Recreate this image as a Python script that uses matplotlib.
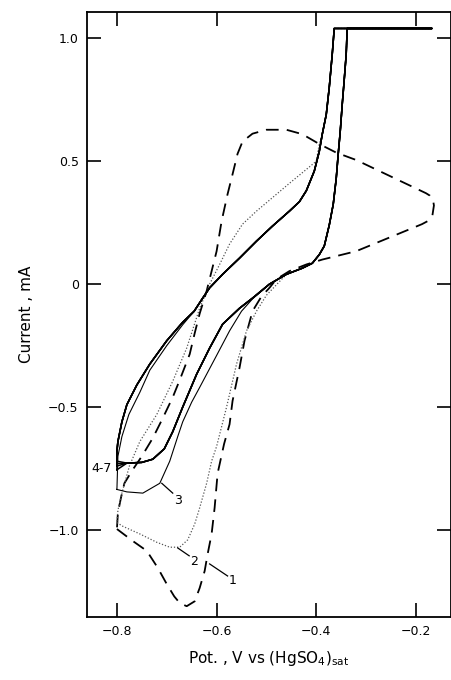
import matplotlib
matplotlib.use("Agg")
import matplotlib.pyplot as plt

# curve 1 (dashed): first sweep
c1_v = [-0.8, -0.768, -0.74, -0.718, -0.70, -0.685, -0.674, -0.66, -0.644, -0.634,
        -0.624, -0.618, -0.61, -0.604, -0.598, -0.585, -0.574, -0.568, -0.554, -0.544,
        -0.528, -0.51, -0.494, -0.48, -0.454, -0.42, -0.388, -0.32, -0.188, -0.175,
        -0.167, -0.164, -0.166, -0.172, -0.18, -0.32, -0.36, -0.394, -0.428, -0.46,
        -0.50, -0.528, -0.548, -0.558, -0.568, -0.578, -0.59, -0.60, -0.61, -0.62,
        -0.634, -0.644, -0.654, -0.674, -0.688, -0.708, -0.728, -0.75, -0.77, -0.785,
        -0.792, -0.798, -0.8]
c1_i = [-0.996, -1.045, -1.085, -1.154, -1.22, -1.27, -1.297, -1.31, -1.29, -1.236,
        -1.167, -1.098, -1.016, -0.91, -0.77, -0.65, -0.57, -0.475, -0.34, -0.23,
        -0.11, -0.05, -0.015, 0.02, 0.053, 0.08, 0.10, 0.134, 0.244, 0.258,
        0.28, 0.32, 0.345, 0.36, 0.37, 0.505, 0.535, 0.57, 0.61, 0.628,
        0.628, 0.612, 0.58, 0.53, 0.447, 0.366, 0.256, 0.134, 0.053, -0.028,
        -0.12, -0.20, -0.285, -0.39, -0.46, -0.545, -0.626, -0.70, -0.76, -0.81,
        -0.87, -0.93, -0.996]

# curve 2 (dotted): second sweep
c2_v = [-0.8, -0.788, -0.754, -0.72, -0.694, -0.674, -0.658, -0.644, -0.634, -0.62,
        -0.61, -0.60, -0.58, -0.56, -0.54, -0.52, -0.50, -0.46, -0.428, -0.408,
        -0.394, -0.384, -0.374, -0.366, -0.36, -0.356, -0.352, -0.348, -0.344, -0.34,
        -0.338, -0.168, -0.364, -0.368, -0.374, -0.38, -0.388, -0.394, -0.40, -0.454,
        -0.52, -0.548, -0.574, -0.594, -0.614, -0.634, -0.66, -0.688, -0.72, -0.754,
        -0.775, -0.79, -0.798, -0.8]
c2_i = [-0.97, -0.985, -1.016, -1.05, -1.07, -1.07, -1.04, -0.976, -0.91, -0.81,
        -0.72, -0.66, -0.50, -0.325, -0.19, -0.11, -0.045, 0.04, 0.065, 0.085,
        0.12, 0.155, 0.24, 0.325, 0.43, 0.53, 0.62, 0.73, 0.83, 0.935,
        1.04, 1.04, 1.04, 0.935, 0.80, 0.69, 0.61, 0.57, 0.50, 0.41,
        0.297, 0.244, 0.163, 0.08, 0.0, -0.098, -0.26, -0.395, -0.53, -0.64,
        -0.74, -0.85, -0.92, -0.97]

# curve 3 (thin solid)
c3_v = [-0.8, -0.78, -0.748, -0.714, -0.694, -0.678, -0.668, -0.65, -0.634, -0.60,
        -0.574, -0.55, -0.528, -0.494, -0.46, -0.428, -0.408, -0.394, -0.384, -0.374,
        -0.366, -0.36, -0.356, -0.352, -0.348, -0.344, -0.34, -0.338, -0.168, -0.364,
        -0.368, -0.374, -0.38, -0.388, -0.394, -0.404, -0.42, -0.434, -0.454, -0.488,
        -0.52, -0.554, -0.588, -0.614, -0.628, -0.645, -0.668, -0.70, -0.734, -0.754,
        -0.776, -0.79, -0.798, -0.8]
c3_i = [-0.835, -0.845, -0.85, -0.81, -0.72, -0.62, -0.56, -0.48, -0.42, -0.29,
        -0.19, -0.11, -0.06, 0.0, 0.04, 0.065, 0.085, 0.12, 0.155, 0.24,
        0.325, 0.43, 0.53, 0.62, 0.73, 0.83, 0.935, 1.04, 1.04, 1.04,
        0.935, 0.80, 0.69, 0.61, 0.54, 0.46, 0.38, 0.335, 0.297, 0.236,
        0.175, 0.106, 0.04, -0.015, -0.057, -0.11, -0.165, -0.25, -0.35, -0.44,
        -0.53, -0.62, -0.70, -0.835]

# curves 4-7 (solid, nearly coincident loop; they split near -0.8 V)
c47_v = [-0.8, -0.78, -0.75, -0.728, -0.705, -0.688, -0.668, -0.64, -0.614, -0.588,
         -0.554, -0.528, -0.494, -0.46, -0.428, -0.408, -0.394, -0.384, -0.374, -0.366,
         -0.36, -0.356, -0.352, -0.348, -0.344, -0.34, -0.338, -0.168, -0.364, -0.368,
         -0.374, -0.38, -0.388, -0.394, -0.404, -0.42, -0.434, -0.454, -0.488, -0.52,
         -0.554, -0.588, -0.614, -0.628, -0.645, -0.668, -0.70, -0.734, -0.76, -0.78,
         -0.79, -0.798, -0.8, -0.8]
c47_i = [None, -0.728, -0.725, -0.712, -0.67, -0.60, -0.50, -0.366, -0.26, -0.163,
         -0.098, -0.057, 0.0, 0.04, 0.065, 0.085, 0.12, 0.155, 0.24, 0.325,
         0.43, 0.53, 0.62, 0.73, 0.83, 0.935, 1.04, 1.04, 1.04, 0.935,
         0.80, 0.69, 0.61, 0.54, 0.46, 0.38, 0.335, 0.297, 0.236, 0.175,
         0.106, 0.04, -0.015, -0.057, -0.11, -0.155, -0.23, -0.325, -0.41, -0.49,
         -0.56, -0.64, -0.68, None]
c47_bottom = [-0.72, -0.73, -0.74, -0.755]

# label text, position, and leader line ends
labels = ["4-7", "3", "2", "1"]
label_xy = [(-0.81, -0.75), (-0.678, -0.878), (-0.646, -1.13), (-0.568, -1.205)]
leaders = [None,
           ((-0.71, -0.81), (-0.688, -0.85)),
           ((-0.678, -1.073), (-0.655, -1.105)),
           ((-0.614, -1.138), (-0.578, -1.187))]

fig = plt.figure(figsize=(4.52, 6.8), dpi=100)
ax = fig.add_axes([0.1925, 0.0926, 0.805, 0.8894])

ax.plot(c1_v, c1_i, color="black", lw=1.3, dashes=(7, 4.5))
ax.plot(c2_v, c2_i, color="#555555", lw=0.9, ls=(0, (1, 1.5)))
ax.plot(c3_v, c3_i, color="black", lw=0.8)
for b in c47_bottom:
    ys = [b] + c47_i[1:-1] + [b]
    ax.plot(c47_v, ys, color="black", lw=1.1)

for txt, (x, y), ld in zip(labels, label_xy, leaders):
    ha = "right" if txt == "4-7" else "center"
    ax.text(x, y, txt, ha=ha, va="center", fontsize=9)
    if ld is not None:
        ax.plot([ld[0][0], ld[1][0]], [ld[0][1], ld[1][1]], color="black", lw=0.9)

ax.set_xlim(-0.86, -0.13)
ax.set_ylim(-1.354, 1.106)
ax.set_xticks([-0.8, -0.6, -0.4, -0.2])
ax.set_xticklabels(["\u22120.8", "\u22120.6", "\u22120.4", "\u22120.2"])
ax.set_yticks([1.0, 0.5, 0.0, -0.5, -1.0])
ax.set_yticklabels(["1.0", "0.5", "0", "\u22120.5", "\u22121.0"])
ax.tick_params(direction="in", length=10, width=1.2, top=True, right=True,
               labelsize=9, pad=6)
for s in ax.spines.values():
    s.set_linewidth(1.3)

ax.set_xlabel("Pot. , V vs (HgSO$_4$)$_{\\rm sat}$", fontsize=11, labelpad=8)
ax.set_ylabel("Current , mA", fontsize=11, labelpad=10)

fig.savefig("out.png", dpi=100)
